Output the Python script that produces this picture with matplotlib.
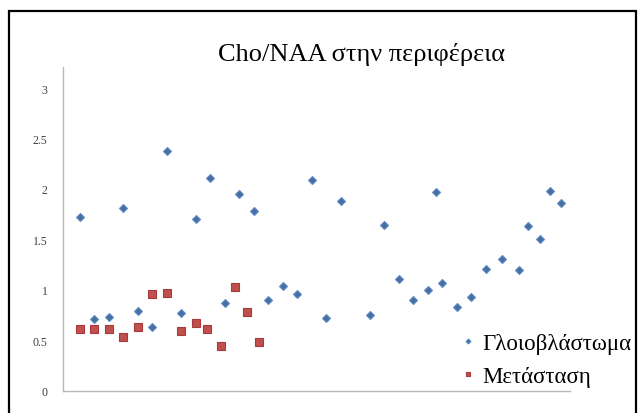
import matplotlib
matplotlib.use("Agg")
import matplotlib.pyplot as plt
from matplotlib.patches import Rectangle

# Cho/NAA ratios in the peritumoural region
glio_x = [1, 2, 3, 4, 5, 6, 7, 8, 9, 10, 11, 12, 13, 14, 15, 16, 17, 18, 19,
          21, 22, 23, 24, 25, 25.55, 26, 27, 28, 29, 30.1, 31.25, 31.9, 32.7,
          33.45, 34.2]
glio_y = [1.72, 0.71, 0.73, 1.81, 0.79, 0.63, 2.38, 0.77, 1.70, 2.11, 0.87,
          1.95, 1.78, 0.90, 1.04, 0.96, 2.09, 0.72, 1.88, 0.75, 1.64, 1.11,
          0.90, 1.00, 1.97, 1.07, 0.83, 0.93, 1.21, 1.30, 1.20, 1.63, 1.50,
          1.98, 1.86]

meta_x = [1, 2, 3, 4, 5, 6, 7, 8, 9, 9.75, 10.7, 11.7, 12.55, 13.35]
meta_y = [0.61, 0.61, 0.61, 0.53, 0.63, 0.96, 0.97, 0.59, 0.67, 0.61, 0.44,
          1.03, 0.78, 0.48]

series_names = ["Γλοιοβλάστωμα", "Μετάσταση"]
title = "Cho/NAA στην περιφέρεια"
y_ticks = [0, 0.5, 1, 1.5, 2, 2.5, 3]
y_tick_labels = ["0", "0.5", "1", "1.5", "2", "2.5", "3"]

serif = ["Liberation Serif", "DejaVu Serif"]

fig = plt.figure(figsize=(6.38, 4.14), dpi=100)
fig.patch.set_facecolor("white")

# outer chart frame
fig.add_artist(Rectangle((9 / 638, -0.05), 627 / 638, 1.05 - 12 / 414,
                         transform=fig.transFigure, fill=False,
                         edgecolor="black", linewidth=1.6))

ax = fig.add_axes([63 / 638, 22.5 / 414, 507 / 638, 323.5 / 414])
ax.set_facecolor("white")

ax.plot(glio_x, glio_y, linestyle="none", marker="D", markersize=4.2,
        markerfacecolor="#4a6f9e", markeredgecolor="#5b8cc8",
        markeredgewidth=0.8, label=series_names[0])
ax.plot(meta_x, meta_y, linestyle="none", marker="s", markersize=5.8,
        markerfacecolor="#c0504d", markeredgecolor="#a8383a",
        markeredgewidth=0.8, label=series_names[1])

ax.set_xlim(-0.17, 34.8)
ax.set_ylim(0, 3.21)
ax.set_yticks(y_ticks)
ax.set_yticklabels(y_tick_labels, family=serif, fontsize=8.5, color="#404040")
ax.set_xticks([])
ax.tick_params(axis="y", length=0, pad=11)

for side in ("top", "right"):
    ax.spines[side].set_visible(False)
for side in ("left", "bottom"):
    ax.spines[side].set_color("#b8b8b8")
    ax.spines[side].set_linewidth(1.0)

fig.text(361 / 638, 1 - 55 / 414, title, family=serif, fontsize=19,
         ha="center", va="center", color="black")

leg = ax.legend(loc="center left", bbox_to_anchor=(462 / 638, 53 / 414),
                bbox_transform=fig.transFigure, frameon=False,
                prop={"family": serif, "size": 16.5}, markerscale=0.6,
                handlelength=0.5, handletextpad=0.4, labelspacing=0.55,
                borderpad=0, borderaxespad=0)

fig.savefig("out.png", dpi=100, facecolor="white")
